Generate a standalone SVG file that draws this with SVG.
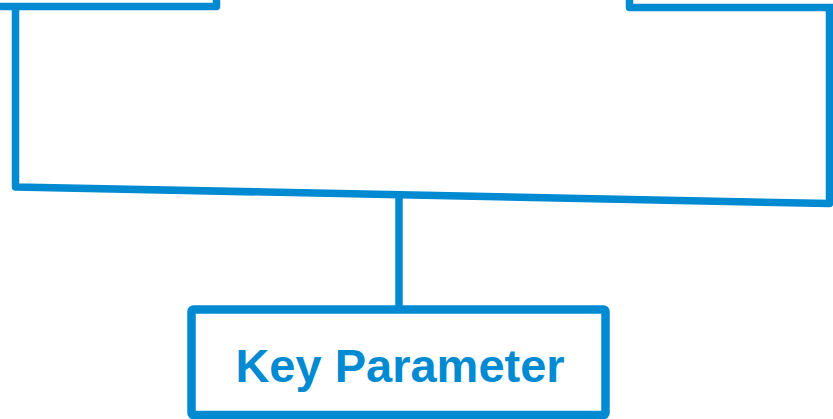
<svg xmlns="http://www.w3.org/2000/svg" width="833" height="419" viewBox="0 0 833 419">
  <style>
    .line { fill: none; stroke: #008AD2; stroke-width: 7.5; stroke-linejoin: round; stroke-linecap: butt; }
    .box { fill: #FFFFFF; stroke: #008AD2; stroke-width: 8.5; }
    .label { font-family: "Liberation Sans", Arial, sans-serif; font-weight: bold; font-size: 47px; fill: #008AD2; text-anchor: middle; }
  </style>

  <!-- parent boxes, mostly outside the top edge -->
  <g id="node-left">
    <path class="line" d="M -5 6.5 H 216.5 V -5"/>
  </g>
  <g id="node-right">
    <path class="line" d="M 629.5 -5 V 7.5 H 840"/>
  </g>

  <!-- bracket joining both parents down to the key parameter -->
  <g id="connectors">
    <path class="line" d="M 15.5 9 V 187 L 829.5 203.5 V 9"/>
    <path class="line" d="M 399 195 V 306"/>
  </g>

  <g id="node-key-parameter">
    <rect class="box" x="191.5" y="309.5" width="414" height="105.5" rx="2"/>
    <text class="label" x="400" y="382">Key Parameter</text>
  </g>
</svg>
